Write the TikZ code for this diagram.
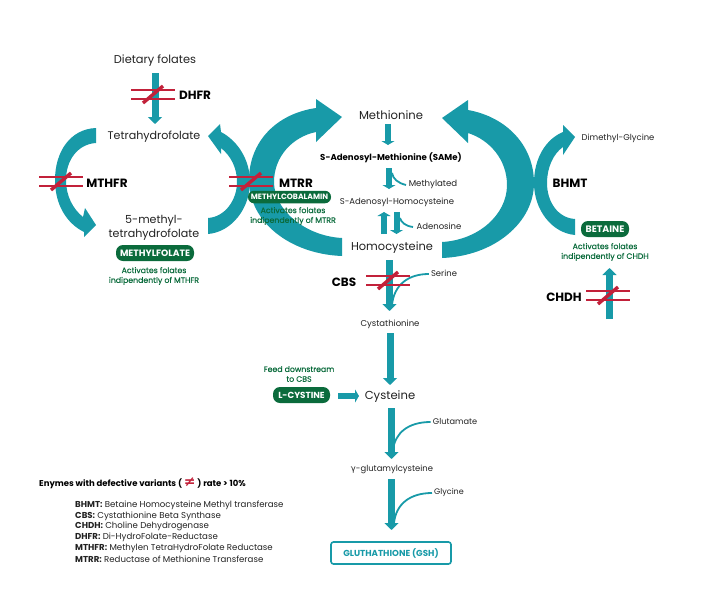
\documentclass[tikz,border=0pt]{standalone}
\usepackage{fontspec}
\setmainfont{Poppins}
\newfontfamily\symfont{DejaVu Sans}
\newfontfamily\medfont{Poppins}[FakeBold=0.5]
\usetikzlibrary{arrows.meta}
\definecolor{tealc}{HTML}{189AA8}
\definecolor{redc}{HTML}{C2213A}
\definecolor{greenc}{HTML}{0B6B3C}
\definecolor{inkc}{HTML}{222222}
\tikzset{
  flow/.style={tealc,line width=7pt,-{Triangle[length=7pt,width=14pt]}},
  thinflow/.style={tealc,line width=6pt,-{Triangle[length=4pt,width=13pt]}},
  feed/.style={tealc,line width=1.8pt},
  arcfill/.style={fill=tealc,draw=none},
  hash/.style={redc,line width=1.2pt},
  slash/.style={redc,line width=3.4pt},
  lbl/.style={inner sep=0pt,text=inkc,align=center,yshift=-1pt,font=\fontsize{#1}{#1}\selectfont},
  lbl/.default=8,
  enz/.style={inner sep=0pt,text=black,yshift=-1pt,font=\fontsize{12}{12}\selectfont\bfseries},
  pill/.style={fill=greenc,text=white,rounded corners=7pt,inner sep=0pt,font=\fontsize{#1}{#1}\selectfont\bfseries},
  note/.style={inner sep=0pt,text=greenc,align=center,font=\fontsize{7.8}{9.8}\selectfont\medfont},
  legend/.style={inner sep=0pt,anchor=west,text=inkc,font=\fontsize{8.6}{8.6}\selectfont},
}
\newcommand{\redmark}[3]{% cx, top y of lines, half width
  \draw[hash] (#1-#3,#2) -- (#1+#3,#2);
  \draw[hash] (#1-#3,#2+9) -- (#1+#3,#2+9);
  \draw[slash] (#1-10,#2+13) -- (#1+10,#2-4);
}
\begin{document}
\begin{tikzpicture}[x=1pt,y=-1pt]
\useasboundingbox (0,0) rectangle (702,600);
% big curved arrows
\fill[arcfill] (96,128) .. controls (70,129) and (55,152) .. (55,180) .. controls (55,204) and (66,223) .. (84,232) -- (84,237) -- (96,225) -- (85,208) -- (83,217) .. controls (73,209) and (66,196) .. (66,180) .. controls (66,160) and (78,144) .. (96,143) -- cycle;
\fill[arcfill] (208,234) .. controls (232,232) and (250,208) .. (250,182) .. controls (250,160) and (238,141) .. (221,132) -- (220,124) -- (208,136) -- (221,154) -- (221,148) .. controls (231,156) and (237,168) .. (237,182) .. controls (237,200) and (225,217) .. (208,218) -- cycle;
\fill[arcfill] (342,256) .. controls (290,254) and (249,222) .. (249,180) .. controls (249,143) and (275,114) .. (316,108) -- (316,99) -- (342,117) -- (316,142) -- (316,132) .. controls (292,137) and (274,157) .. (274,182) .. controls (274,210) and (305,236) .. (342,238) -- cycle;
\fill[arcfill] (442,258) .. controls (495,256) and (534,222) .. (534,183) .. controls (534,146) and (507,117) .. (468,110) -- (468,100) -- (442,118) -- (468,143) -- (468,133) .. controls (490,140) and (507,160) .. (507,185) .. controls (507,215) and (478,240) .. (442,242) -- cycle;
\fill[arcfill] (575,235) .. controls (552,233) and (534,210) .. (534,183) .. controls (534,158) and (546,139) .. (563,132) -- (563,125) -- (575,137) -- (563,155) -- (563,147) .. controls (553,154) and (547,168) .. (547,183) .. controls (547,202) and (558,218) .. (575,219) -- cycle;
% nodes
\node[lbl=11.4] (diet) at (155,60) {Dietary folates};
\node[lbl=11.1] (thf) at (154,136) {Tetrahydrofolate};
\node[lbl=11.1,font=\fontsize{11.1}{14.4}\selectfont] (mthf) at (154,227) {5-methyl-\\tetrahydrofolate};
\node[lbl=11.6] (met) at (391,114.5) {Methionine};
\node[inner sep=0pt,text=black,yshift=-1pt,font=\fontsize{8.6}{8.6}\selectfont\bfseries] (same) at (391,157) {S-Adenosyl-Methionine (SAMe)};
\node[lbl=8.5] (sah) at (397,201) {S-Adenosyl-Homocysteine};
\node[lbl=11.4] (hcy) at (392,247) {Homocysteine};
\node[lbl=8.6] (methyl) at (433,183) {Methylated};
\node[lbl=8.5] (adeno) at (439,225) {Adenosine};
\node[lbl=8.4] (dmg) at (618,137) {Dimethyl-Glycine};
\node[lbl=8.4] (ser) at (444,272) {Serine};
\node[lbl=8.5] (cysta) at (390,323) {Cystathionine};
\node[lbl=11.6] (cys) at (390,396) {Cysteine};
\node[lbl=8.2] (glu) at (455,420) {Glutamate};
\node[lbl=8.4] (ggc) at (392,468) {{\symfont γ}-glutamylcysteine};
\node[lbl=8] (gly) at (449,491) {Glycine};
\node[draw=tealc,line width=1.6pt,rounded corners=2.5pt,minimum width=120pt,minimum height=22pt,inner sep=0pt,text=tealc,font=\fontsize{8.7}{8.7}\selectfont\bfseries] (gsh) at (391,553) {GLUTHATHIONE (GSH)};
% straight arrows
\coordinate (a1) at (155,73); \coordinate (a2) at (155,124);
\coordinate (b1) at (388,124); \coordinate (b2) at (388,145);
\coordinate (c1) at (389,168); \coordinate (c2) at (389,189);
\coordinate (d1) at (384,234); \coordinate (d2) at (384,212);
\coordinate (e1) at (396.5,212); \coordinate (e2) at (396.5,234);
\coordinate (f1) at (389.5,260); \coordinate (f2) at (389.5,311);
\coordinate (g1) at (390,333); \coordinate (g2) at (390,385);
\coordinate (h1) at (391.5,408); \coordinate (h2) at (391.5,459);
\coordinate (i1) at (391.5,479); \coordinate (i2) at (391.5,530);
\coordinate (j1) at (609.5,319); \coordinate (j2) at (609.5,268);
\coordinate (k1) at (338,396); \coordinate (k2) at (359,396);
\draw[flow] (a1) -- (a2);
\draw[thinflow] (b1) -- (b2);
\draw[thinflow] (c1) -- (c2);
\draw[thinflow] (d1) -- (d2);
\draw[thinflow] (e1) -- (e2);
\draw[flow] (f1) -- (f2);
\draw[flow] (g1) -- (g2);
\draw[flow] (h1) -- (h2);
\draw[flow] (i1) -- (i2);
\draw[flow] (j1) -- (j2);
\draw[thinflow] (k1) -- (k2);
% side feeds
\draw[feed] (406,185) .. controls (398,183) and (393,179) .. (392,173);
\draw[feed] (413,227) .. controls (405,226) and (401,222) .. (400,218);
\draw[feed] (ser.west) ++(-2,1) .. controls (408,274) and (394,285) .. (392,305);
\draw[feed] (glu.west) ++(-2,1) .. controls (408,422) and (395,433) .. (393,450);
\draw[feed] (gly.west) ++(-2,1) .. controls (410,493) and (396,504) .. (394,523);
% enzyme labels
\node[enz] (dhfr) at (195,94) {DHFR};
\node[enz] (mthfr) at (107,182) {MTHFR};
\node[enz] (mtrr) at (296,182) {MTRR};
\node[enz] (bhmt) at (570,182) {BHMT};
\node[enz] (chdh) at (564,296) {CHDH};
\node[enz] (cbs) at (344,281) {CBS};
% pills
\node[pill=9.2,minimum width=78pt,minimum height=16pt] (mfol) at (155,253) {METHYLFOLATE};
\node[pill=7.7,minimum width=83pt,minimum height=12.5pt,rounded corners=6pt] (mcob) at (289.5,197) {METHYLCOBALAMIN};
\node[pill=9.4,minimum width=48pt,minimum height=16pt] (beta) at (605,229) {BETAINE};
\node[pill=8.8,minimum width=57pt,minimum height=16pt] (lcys) at (301.5,395) {L-CYSTINE};
% notes
\node[note] (n1) at (154,276) {Activates folates\\indipendently of MTHFR};
\node[note] (n2) at (293,216) {Activates folates\\indipendently of MTRR};
\node[note] (n3) at (605,252) {Activates folates\\indipendently of CHDH};
\node[note] (n4) at (299,374) {Feed downstream\\to CBS};
% red marks
\redmark{153}{90}{22}
\redmark{61}{177}{22}
\redmark{251}{177}{22}
\redmark{388}{276}{22}
\redmark{608}{291}{22}
% legend
\node[legend,text=black,font=\fontsize{8.5}{8.5}\selectfont\bfseries] (lt) at (39,483) {Enymes with defective variants ( {\color{redc}\symfont\bfseries\fontsize{14}{14}\selectfont ≠} ) rate > 10\%};
\node[legend] (l1) at (75,505) {\textbf{BHMT:} Betaine Homocysteine Methyl transferase};
\node[legend] (l2) at (75,516) {\textbf{CBS:} Cystathionine Beta Synthase};
\node[legend] (l3) at (75,526.5) {\textbf{CHDH:} Choline Dehydrogenase};
\node[legend] (l4) at (75,537) {\textbf{DHFR:} Di-HydroFolate-Reductase};
\node[legend] (l5) at (75,548) {\textbf{MTHFR:} Methylen TetraHydroFolate Reductase};
\node[legend] (l6) at (75,559) {\textbf{MTRR:} Reductase of Methionine Transferase};
\end{tikzpicture}
\end{document}
